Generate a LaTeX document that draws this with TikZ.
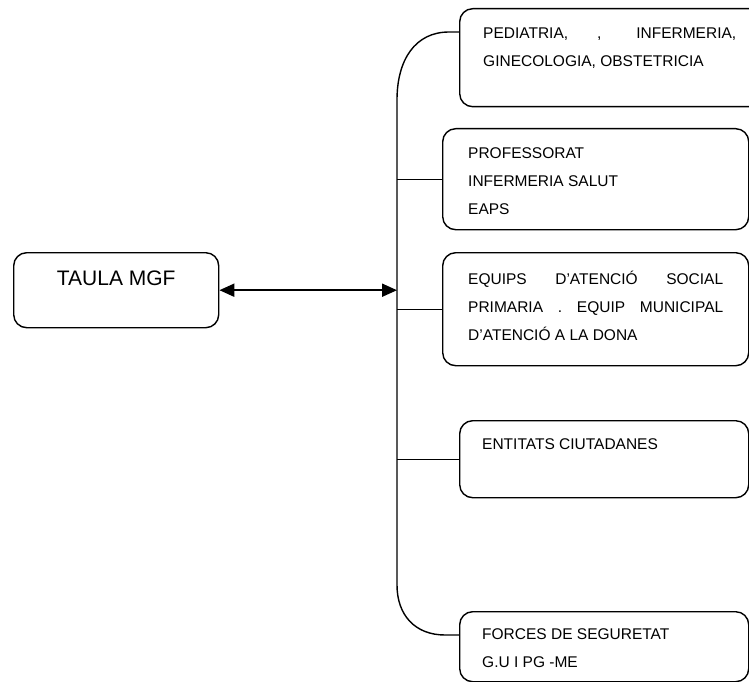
\documentclass[tikz,border=0pt]{standalone}
\usepackage{fontspec}
\setmainfont{Liberation Sans}
\usetikzlibrary{arrows.meta}

\begin{document}
\begin{tikzpicture}[x=1pt, y=-1pt,
    panel/.style={draw, line width=1.4pt, rounded corners=13pt, inner sep=0pt, anchor=north west},
    paneltext/.style={anchor=north west, inner sep=0pt, align=left, font=\fontsize{15.5}{28}\selectfont},
    titletext/.style={anchor=base, inner sep=0pt, font=\fontsize{21}{25}\selectfont},
    link/.style={line width=1.4pt},
    biarrow/.style={line width=2pt, {Triangle[length=15pt,width=13pt]}-{Triangle[length=15pt,width=13pt]}}]
      \useasboundingbox (0, 0) rectangle (749, 682);
      % boxes
      \node[panel, minimum width=205pt, minimum height=75pt] (taula) at (13, 252) {};
      \node[panel, minimum width=303pt, minimum height=98pt] (ped) at (459, 8) {};
      \node[panel, minimum width=306pt, minimum height=101pt] (prof) at (442, 128) {};
      \node[panel, minimum width=306pt, minimum height=113pt] (equips) at (442, 252) {};
      \node[panel, minimum width=289pt, minimum height=77pt] (entitats) at (459, 420) {};
      \node[panel, minimum width=289pt, minimum height=70pt] (forces) at (459, 611) {};
      % texts
      \node[titletext] (taulatext) at ([yshift=-33.5pt]taula.north) {TAULA MGF};
      \node[paneltext] (pedtext) at ([shift={(24,20)}]ped.north west)
        {\makebox[253pt][s]{PEDIATRIA, , INFERMERIA,}\\GINECOLOGIA, OBSTETRICIA};
      \node[paneltext] (proftext) at ([shift={(26,19)}]prof.north west)
        {PROFESSORAT\\INFERMERIA SALUT\\EAPS};
      \node[paneltext] (equipstext) at ([shift={(26,19)}]equips.north west)
        {\makebox[255pt][s]{EQUIPS D’ATENCIÓ SOCIAL}\\\makebox[255pt][s]{PRIMARIA . EQUIP MUNICIPAL}\\D’ATENCIÓ A LA DONA};
      \node[paneltext] (entitatstext) at ([shift={(23,18)}]entitats.north west)
        {ENTITATS CIUTADANES};
      \node[paneltext] (forcestext) at ([shift={(23,17)}]forces.north west)
        {FORCES DE SEGURETAT\\G.U I PG -ME};
      % bracket
      \coordinate (spinetop) at (397, 100);
      \coordinate (spinebot) at (397, 585);
      \draw[link] ([yshift=-24pt]ped.north west) -- ++(-10, 0)
        .. controls +(-34, 0) and +(0, -40) .. (spinetop) -- (spinebot)
        .. controls +(0, 30) and +(-30, 0) .. ([xshift=-14pt, yshift=-24pt]forces.north west)
        -- ([yshift=-24pt]forces.north west);
      \draw[link] (prof.west) -- (prof.west -| spinetop);
      \draw[link] (equips.west) -- (equips.west -| spinetop);
      \draw[link] (entitats.west) -- (entitats.west -| spinetop);
      \draw[biarrow] (taula.east) -- (taula.east -| spinetop);
\end{tikzpicture}
\end{document}
